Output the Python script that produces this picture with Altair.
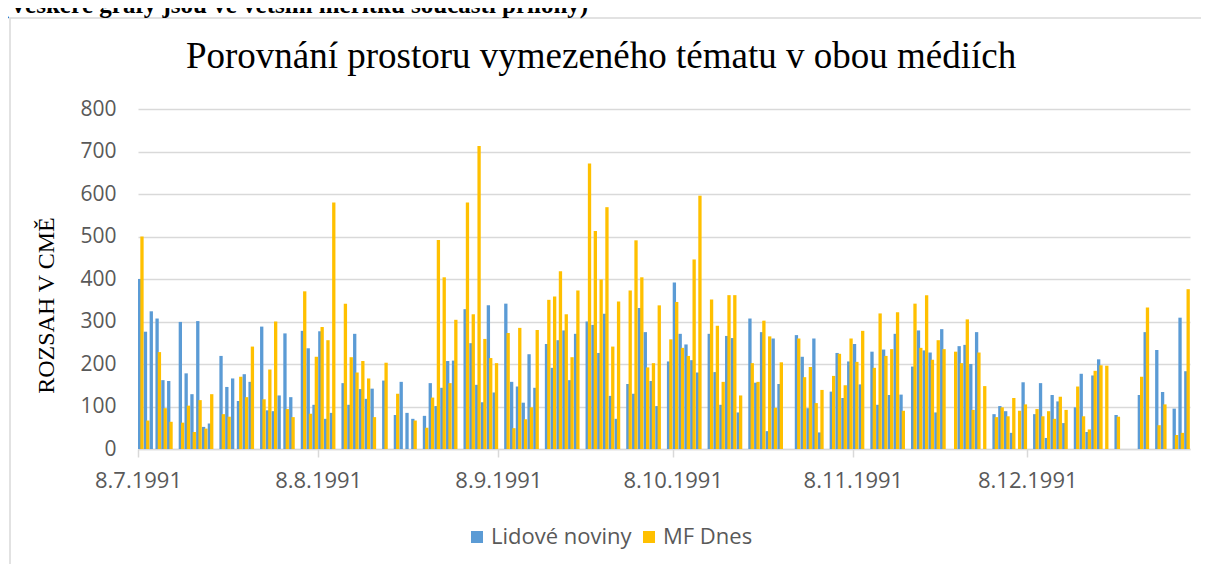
import altair as alt
import pandas as pd

N = None
start_date = "1991-07-08"
end_date = "1992-01-05"
tick_dates = ["1991-07-08", "1991-08-08", "1991-09-08", "1991-10-08", "1991-11-08", "1991-12-08"]
series_names = ["Lidové noviny", "MF Dnes"]
series_colors = ["#5B9BD5", "#FFC000"]

# one row per week (Mon..Sun), values per day starting 8.7.1991
lidove_noviny = [
    400, 276, 324, 307, 162, 160, N,
    299, 178, 129, 301, 52, 60, N,
    219, 146, 166, 113, 176, 158, N,
    288, 91, 89, 126, 272, 122, N,
    278, 237, 104, 277, 71, 85, N,
    155, 104, 271, 141, 118, 142, N,
    161, N, 80, 158, 85, 71, N,
    78, 155, 101, 144, 207, 208, N,
    329, 249, 151, 110, 338, 133, N,
    342, 158, 147, 109, 223, 144, N,
    247, 191, 256, 279, 162, 271, N,
    300, 292, 226, 318, 125, 71, N,
    153, 130, 332, 275, 160, 101, N,
    206, 392, 271, 246, 209, 180, N,
    271, 181, 104, 266, 261, 86, N,
    307, 156, 275, 42, 260, 153, N,
    N, 268, 217, 96, 260, 39, N,
    135, 226, 120, 206, 247, 152, N,
    229, 104, 234, 127, 271, 128, N,
    194, 279, 232, 227, 86, 282, N,
    N, 242, 245, 200, 275, N, N,
    82, 101, 89, 38, N, 157, N,
    82, 155, 26, 127, 112, 61, N,
    98, 177, 40, 173, 211, N, N,
    80, N, N, N, 127, 275, N,
    233, 134, N, 95, 309, 183,
]
mf_dnes = [
    500, 67, N, 228, 96, 64, N,
    62, 102, 40, 115, 48, 129, N,
    82, 76, N, 170, 122, 241, N,
    117, 187, 300, N, 94, 75, N,
    371, 83, 217, 287, 256, 580, N,
    342, 216, 180, 207, 166, 75, N,
    203, N, 130, N, N, 67, N,
    50, 121, 492, 404, 155, 304, N,
    580, 317, 713, 259, 214, 202, N,
    273, 49, 285, 70, 98, 280, N,
    351, 359, 418, 317, 216, 373, N,
    672, 513, 399, 569, 241, 347, N,
    373, 491, 404, 192, 202, 338, N,
    258, 346, 238, 219, 446, 596, N,
    352, 290, 158, 362, 362, 126, N,
    202, 158, 302, 265, 97, 204, N,
    N, 260, 169, 193, 108, 139, N,
    172, 224, 150, 260, 205, 278, N,
    191, 319, 219, 235, 322, 90, N,
    342, 238, 362, 210, 256, 235, N,
    229, 202, 305, 92, 227, 148, N,
    75, 98, 77, 120, 90, 105, N,
    94, 77, 89, 71, 123, 92, N,
    147, 77, 46, 184, 197, 196, N,
    76, N, N, N, 170, 333, N,
    56, 105, N, 33, 38, 376,
]

days = pd.date_range(start_date, periods=len(lidove_noviny), freq="D")
rows = []
for day, ln, mf in zip(days, lidove_noviny, mf_dnes):
    ds = day.strftime("%Y-%m-%d")
    if ln is not None:
        rows.append({"date": ds, "series": series_names[0], "value": ln})
    if mf is not None:
        rows.append({"date": ds, "series": series_names[1], "value": mf})
df = pd.DataFrame(rows)


def ms(s):
    return int(pd.Timestamp(s, tz="UTC").value // 1_000_000)


DAY = 86400000
label_font = "Open Sans"
grey = "#595959"
light = "#d9d9d9"

bars = alt.Chart(df).transform_calculate(
    x0=f"time(toDate(datum.date)) + (datum.series === 'MF Dnes' ? 0.40 : 0.0) * {DAY}"
).transform_calculate(
    x1=f"datum.x0 + 0.57 * {DAY}"
).mark_rect(strokeWidth=0).encode(
    x=alt.X(
        "x0:T",
        scale=alt.Scale(type="utc", domain=[ms(start_date), ms(end_date)]),
        axis=alt.Axis(
            values=[ms(t) for t in tick_dates],
            labelExpr="utcFormat(datum.value, '%-d.%-m.%Y')",
            title=None, grid=False,
            domainColor=light, domainWidth=1.5,
            tickColor=light, tickWidth=1.5, tickSize=8,
            labelPadding=13, labelFont=label_font, labelFontSize=22,
            labelColor=grey, labelAlign="center", labelFlush=False,
            labelOverlap=False,
        ),
    ),
    x2="x1:T",
    y=alt.Y(
        "value:Q",
        scale=alt.Scale(domain=[0, 800], nice=False),
        axis=alt.Axis(
            values=[0, 100, 200, 300, 400, 500, 600, 700, 800],
            grid=True, gridColor=light, gridWidth=1.5,
            domain=False, ticks=False, labelPadding=22,
            labelFont=label_font, labelFontSize=21, labelColor=grey,
            title="ROZSAH V CMĚ", titleFont="Liberation Serif", titleFontSize=24,
            titleFontWeight="normal", titleColor="black", titleAngle=270,
            titleAlign="center", titleBaseline="middle", titleX=-92, titleY=196,
        ),
    ),
    y2=alt.datum(0),
    color=alt.Color(
        "series:N",
        scale=alt.Scale(domain=series_names, range=series_colors),
        legend=alt.Legend(
            title=None, orient="none", legendX=328, legendY=417,
            direction="horizontal", symbolType="square", symbolSize=144,
            symbolStrokeWidth=0, labelFont=label_font, labelFontSize=22,
            labelColor=grey, columnPadding=6, labelOffset=3,
        ),
    ),
)

one = pd.DataFrame({"k": [0]})

frame = alt.Chart(one).mark_rect(
    fill=None, stroke=light, strokeWidth=1.5
).encode(
    x=alt.value(-128), x2=alt.value(1100), y=alt.value(-91), y2=alt.value(520)
)

note = alt.Chart(one).mark_text(
    text="(Veškeré grafy jsou ve větším měřítku součástí přílohy)",
    font="Liberation Serif", fontSize=25, fontWeight="bold", color="black",
    align="left", baseline="alphabetic",
).encode(x=alt.value(-137), y=alt.value(-96))

title = alt.Chart(one).mark_text(
    text="Porovnání prostoru vymezeného tématu v obou médiích",
    font="Liberation Serif", fontSize=37, fontWeight="normal", color="black",
    align="center", baseline="alphabetic",
).encode(x=alt.value(463), y=alt.value(-41))

chart = alt.layer(frame, note, title, bars).properties(
    width=1052,
    height=340,
    autosize=alt.AutoSizeParams(type="none"),
    padding={"left": 130, "top": 101, "right": 11, "bottom": 115},
).configure_view(stroke=None)

chart.save("out.html", embed_options={"renderer": "svg", "actions": False})
